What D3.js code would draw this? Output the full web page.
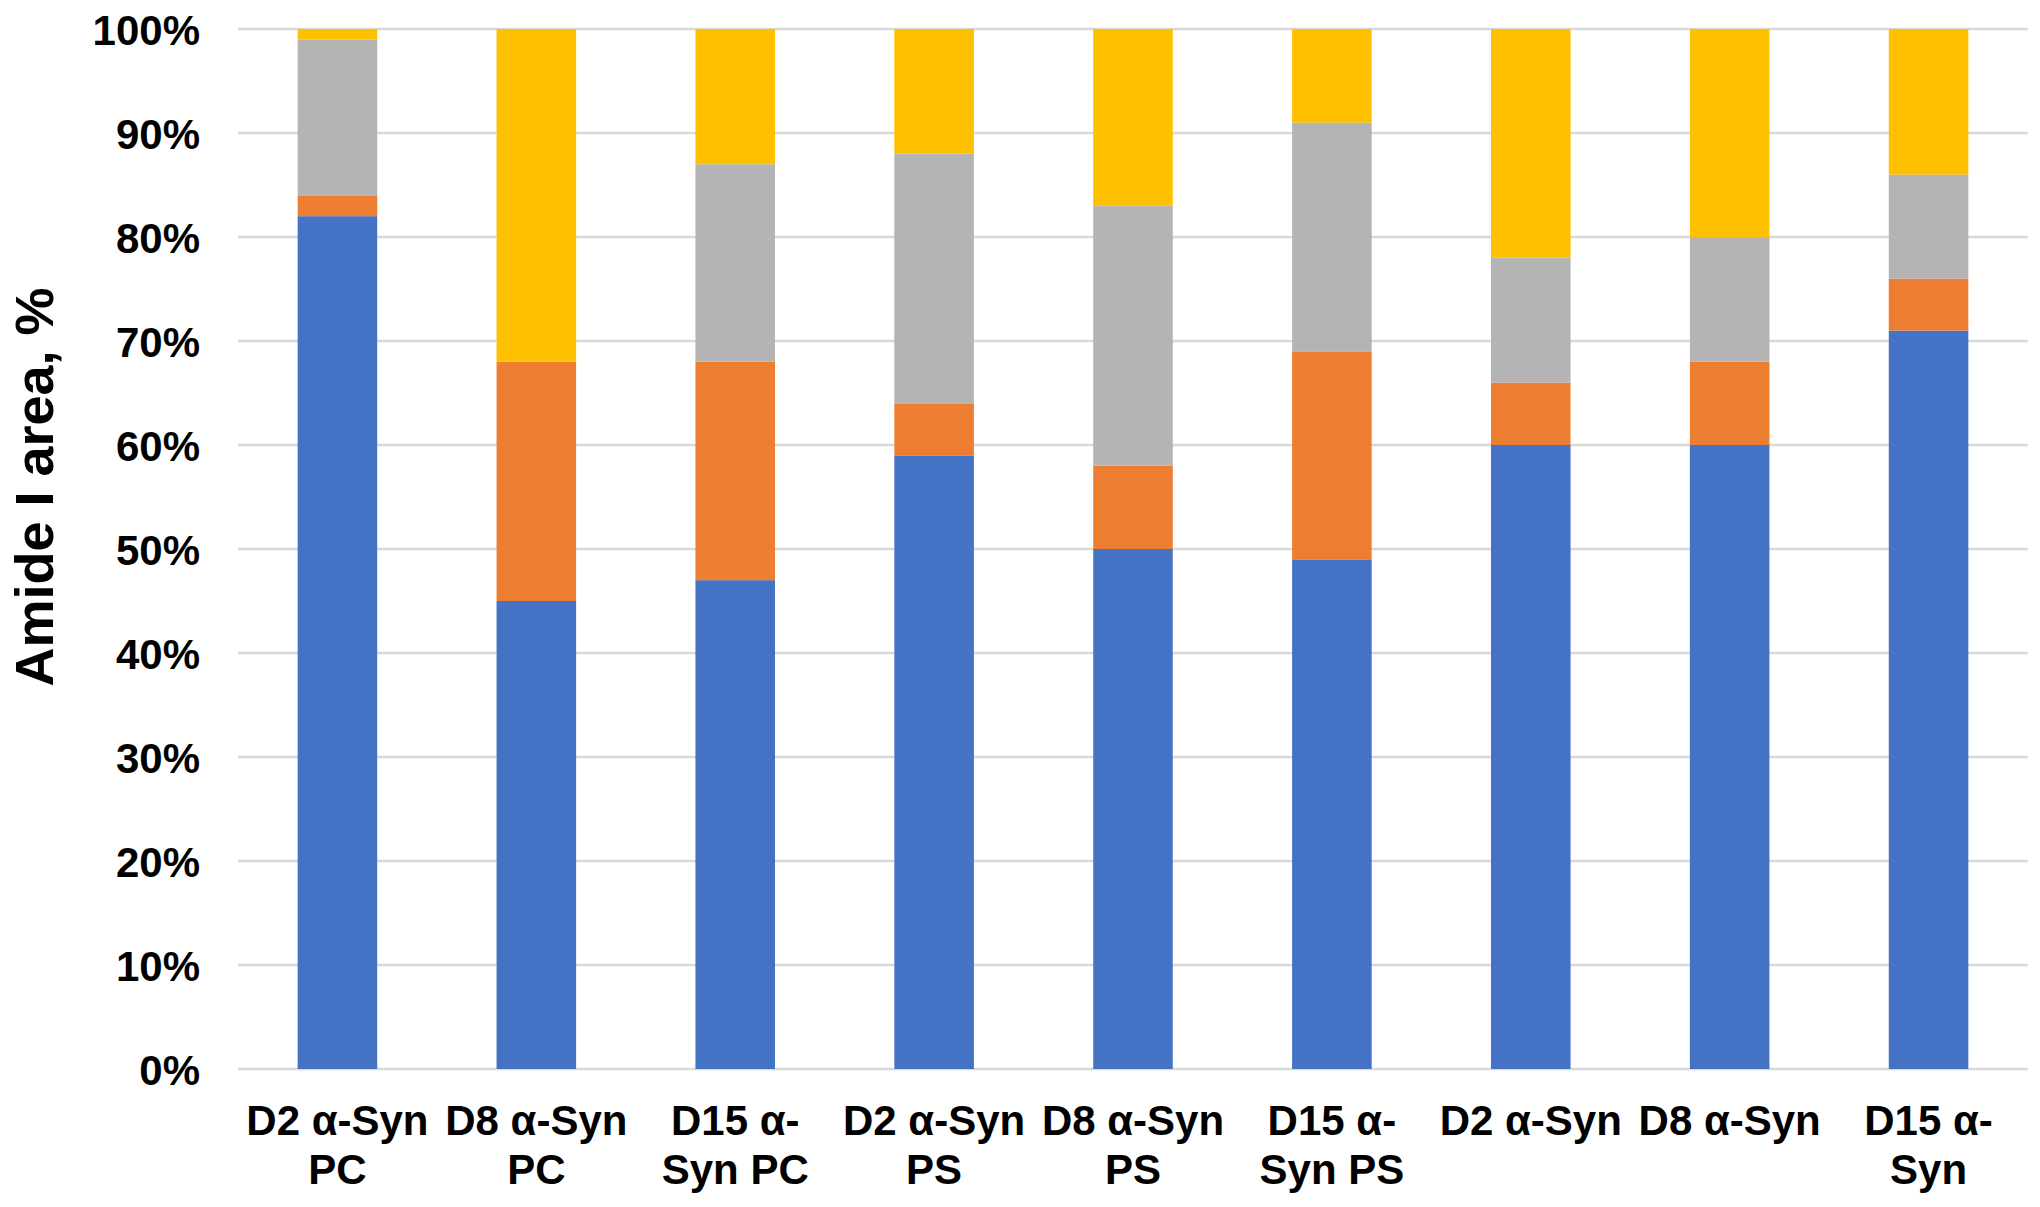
<!DOCTYPE html>
<html>
<head>
<meta charset="utf-8">
<script src="https://cdn.jsdelivr.net/npm/d3@7"></script>
<style>
  html, body { margin: 0; padding: 0; background: #fff; }
  svg { display: block; }
  text { font-family: "Liberation Sans", Arial, sans-serif; font-weight: bold; fill: #000; }
</style>
</head>
<body>
<script>
const categories = ["D2 α-Syn PC", "D8 α-Syn PC", "D15 α-Syn PC", "D2 α-Syn PS", "D8 α-Syn PS", "D15 α-Syn PS", "D2 α-Syn", "D8 α-Syn", "D15 α-Syn"];
const categoryLines = [["D2 α-Syn", "PC"], ["D8 α-Syn", "PC"], ["D15 α-", "Syn PC"], ["D2 α-Syn", "PS"], ["D8 α-Syn", "PS"], ["D15 α-", "Syn PS"], ["D2 α-Syn"], ["D8 α-Syn"], ["D15 α-", "Syn"]];
const seriesNames = ["s1", "s2", "s3", "s4"];
const s1 = [82, 45, 47, 59, 50, 49, 60, 60, 71];
const s2 = [2, 23, 21, 5, 8, 20, 6, 8, 5];
const s3 = [15, 0, 19, 24, 25, 22, 12, 12, 10];
const s4 = [1, 32, 13, 12, 17, 9, 22, 20, 14];
const seriesColors = ["#4472C4", "#ED7D31", "#B4B4B4", "#FFC000"];
const yTicks = [0, 10, 20, 30, 40, 50, 60, 70, 80, 90, 100];
const yTitle = "Amide I area, %";

const W = 2040, H = 1207;
const margin = { left: 238, right: 12, top: 29, bottom: 138 };

const svg = d3.select("body").append("svg").attr("width", W).attr("height", H);

const x = d3.scaleBand().domain(categories).range([margin.left, W - margin.right]).paddingInner(0.6).paddingOuter(0.3);
const y = d3.scaleLinear().domain([0, 100]).range([H - margin.bottom, margin.top]);

// gridlines
svg.append("g").selectAll("line").data(yTicks).join("line")
  .attr("x1", margin.left).attr("x2", W - margin.right)
  .attr("y1", d => y(d)).attr("y2", d => y(d))
  .attr("stroke", "#d9d9d9").attr("stroke-width", 2.5);

// stacked data
const rows = categories.map((c, i) => ({ cat: c, s1: s1[i], s2: s2[i], s3: s3[i], s4: s4[i] }));
const stack = d3.stack().keys(seriesNames)(rows);

svg.append("g").selectAll("g").data(stack).join("g")
  .attr("fill", (d, i) => seriesColors[i])
  .selectAll("rect").data(d => d).join("rect")
  .attr("x", d => x(d.data.cat))
  .attr("width", x.bandwidth())
  .attr("y", d => y(d[1]))
  .attr("height", d => y(d[0]) - y(d[1]));

// y axis labels
const yAxis = d3.axisLeft(y).tickValues(yTicks).tickFormat(d => d + "%").tickSize(0).tickPadding(0);
const yg = svg.append("g").attr("transform", `translate(200,0)`).call(yAxis);
yg.select(".domain").remove();
yg.selectAll("text").style("font-size", "42px").style("font-family", "'Liberation Sans', Arial, sans-serif").style("font-weight", "bold").attr("fill", "#000").attr("dy", "0.36em");

// x axis labels
const xg = svg.append("g");
categories.forEach((c, i) => {
  const t = xg.append("text")
    .attr("x", x(c) + x.bandwidth() / 2)
    .attr("y", 1135)
    .attr("text-anchor", "middle")
    .style("font-size", "42px");
  categoryLines[i].forEach((ln, j) => {
    t.append("tspan").attr("x", x(c) + x.bandwidth() / 2).attr("y", 1135 + j * 49).text(ln);
  });
});

// y title
svg.append("text")
  .attr("transform", `translate(53,487) rotate(-90)`)
  .attr("text-anchor", "middle")
  .style("font-size", "54px")
  .text(yTitle);
</script>
</body>
</html>
